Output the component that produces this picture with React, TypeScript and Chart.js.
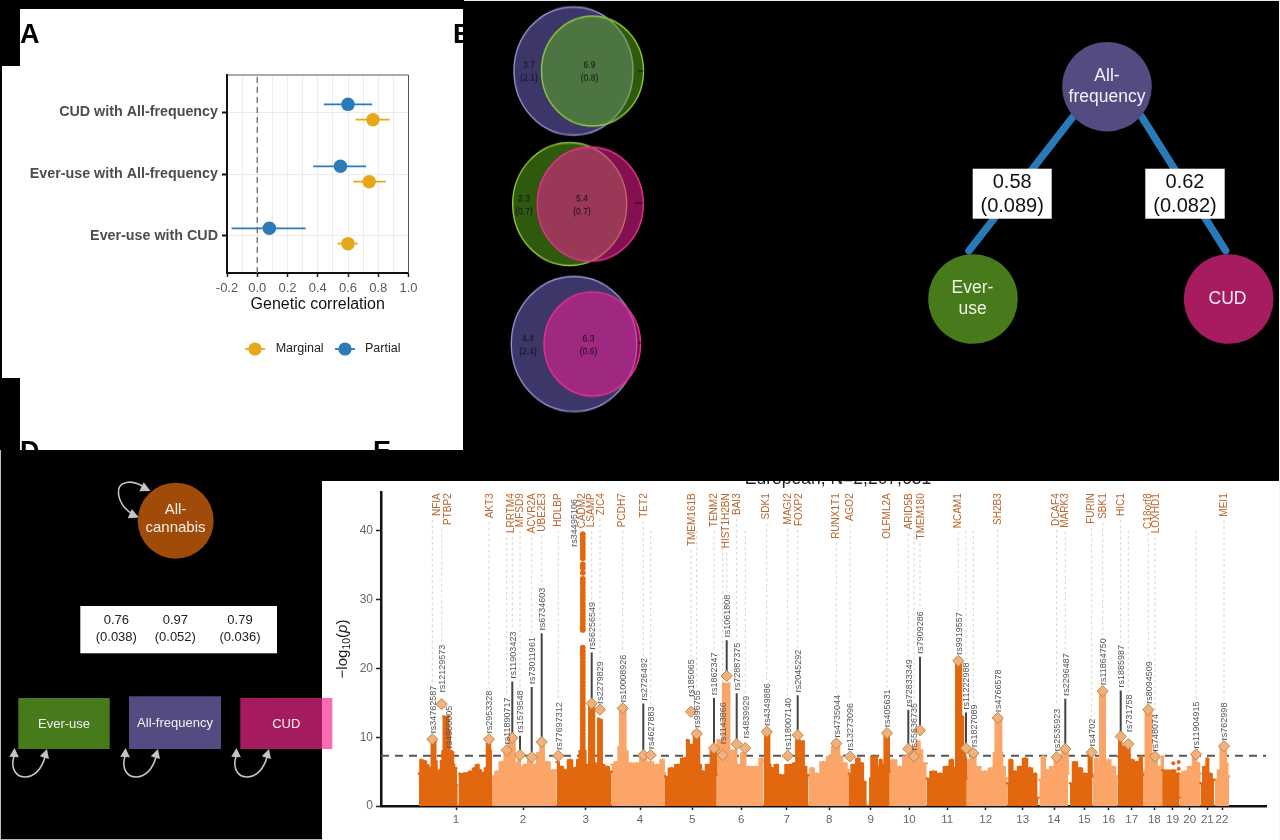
import React, { useEffect, useRef } from "react";
import { Chart, registerables } from "chart.js";

Chart.register(...registerables);

const SANS = "'Liberation Sans', Arial, sans-serif";

// ---------- Panel A ----------
const corrCategories = ["Ever-use with CUD", "Ever-use with All-frequency", "CUD with All-frequency"];
const partialR = [0.08, 0.55, 0.6];
const partialLo = [-0.17, 0.37, 0.44];
const partialHi = [0.32, 0.72, 0.76];
const marginalR = [0.6, 0.74, 0.765];
const marginalLo = [0.53, 0.635, 0.65];
const marginalHi = [0.665, 0.85, 0.875];
const corrXTicks = [-0.2, -0.1, 0, 0.1, 0.2, 0.3, 0.4, 0.5, 0.6, 0.7, 0.8, 0.9, 1.0];

// ---------- Panel B ----------
const vennX = [573.5, 592.5, 569.7, 590.3, 574, 592.3];
const vennY = [71, 71, 204, 204, 344, 344];
const vennR = [59.5, 51, 57, 53, 62.7, 48.3];
const vennTexts: [string, string, number, number][] = [
  ["3.7", "(2.1)", 529, 72], ["6.9", "(0.8)", 589.5, 72],
  ["2.3", "(0.7)", 524, 205], ["5.4", "(0.7)", 582, 205],
  ["4.4", "(2.4)", 528, 345], ["6.3", "(0.6)", 588.5, 345],
];

// ---------- Panel C ----------
const pathNodeX = [1107, 973, 1228.7];
const pathNodeY = [86.7, 299, 299];
const pathEdgeEver = [[1073, 116.7], [969, 250.7]];
const pathEdgeCud = [[1141.7, 116.7], [1225.7, 250.7]];

// ---------- Panel D ----------
const factorBoxTexts: [string, string, number][] = [
  ["0.76", "(0.038)", 116.3], ["0.97", "(0.052)", 175.3], ["0.79", "(0.036)", 240],
];

// ---------- Panel E ----------
const chr1 = [[419, 4.7], [421, 6.7], [425, 6.5], [428, 5.9], [430, 5], [431, 5.5], [431.5, 9.6], [435.5, 9.4], [436, 6.5], [438, 5], [440, 5.2], [441, 6.5], [443, 8], [443.5, 13], [448.5, 13], [449, 11], [451, 8], [453, 7.8], [454, 6], [455, 5.2], [456, 5.5], [456.7, 3], [457, 0], [459.3, 0], [459.5, 4.7], [468, 4.8], [470, 5], [475, 5.5], [476, 5.9], [478, 6], [480, 5.2], [483, 4.8], [486, 5.5], [487, 9], [488, 9.7], [490, 9.7], [491, 8], [491.5, 0]];
const chr2 = [[488.3, 5], [493.3, 4.3], [496.7, 5], [501.7, 6.4], [506.7, 7.6], [510, 9.6], [513.3, 9.8], [516.7, 6.2], [519, 7.5], [521.7, 5.7], [525, 6], [530, 7.2], [535, 6], [538.3, 7.7], [541.7, 9.6], [546.7, 6.4], [553.3, 5.2], [556.7, 5.2]];
const chr3 = [[556.7, 6.4], [561.7, 5.7], [565, 5.2], [570, 6.7], [575, 5.5], [578.3, 6.7], [580, 8], [585, 8], [586.7, 6], [588.3, 5.7], [589.3, 15], [594, 15], [595, 6.2], [597.3, 5.7], [598.3, 12.7], [601.7, 12.5], [602.7, 6], [606.7, 5.7], [611.7, 5]];
const chr4 = [[611.7, 6], [616.7, 6.4], [619.5, 8.6], [620, 14], [625.7, 14], [626, 8], [630, 6.2], [636.7, 6.2], [643, 7.6], [650, 6.4], [656.7, 6], [663.3, 6.7], [665, 4.7]];
const chr5 = [[665, 4.3], [671.7, 5.5], [678, 6], [683.3, 6.9], [686.5, 7], [686.8, 9.6], [691.7, 8.9], [693.3, 6], [693.8, 10.8], [699.3, 10.8], [699.8, 6], [703, 5], [708, 6], [712.7, 8.4], [716, 8.1], [716.5, 4.5]];
const chr6 = [[716, 6.2], [718.3, 9.6], [722, 9.6], [723.3, 17.8], [729.3, 17.8], [730, 8.1], [735, 8.1], [738.3, 6], [743.3, 7.7], [748.3, 5.7], [756.7, 5.7], [761.7, 6.9], [763.7, 6.5]];
const chr7 = [[764, 10.8], [769.3, 10.8], [770, 6], [771.7, 5.5], [776.7, 6], [780, 4.5], [790, 6], [795, 6.2], [796.7, 9.6], [803.3, 9.4], [805, 5.7], [808.3, 4.5]];
const chr8 = [[808.3, 4.3], [811.7, 5.5], [816.7, 4.7], [823.3, 6.4], [830, 7.2], [833.3, 8.6], [839, 8.6], [840, 7.2], [845, 6.2], [849, 5.2]];
const chr9 = [[849, 4.7], [853.3, 6], [858.3, 6.9], [861.7, 6.2], [865, 3.5], [866.7, 0], [869.3, 0], [870.3, 4], [871.7, 7.2], [876.7, 7.2], [878, 5.7], [880.7, 6.7], [883.3, 6], [885, 10.8], [889, 10.6], [889.5, 5]];
const chr10 = [[888.3, 6], [893.3, 6.7], [900, 5.7], [905.7, 7.2], [910, 8.1], [915, 8.6], [918.3, 9.4], [921.7, 8.1], [923.3, 6.2], [926.7, 6.2]];
const chr11 = [[926.7, 4], [933.3, 5], [940, 4.7], [946.7, 5.7], [951.7, 6.7], [955, 5.5], [956.5, 21], [961, 21], [962, 13], [965, 8.4], [966, 7], [966.5, 4]];
const chr12 = [[964, 5.2], [970, 6.7], [971, 7.7], [975, 7.2], [976.7, 5.7], [985, 5], [991.7, 5.5], [995, 7.7], [995.3, 12.7], [1001.5, 12.7], [1001.8, 7.7], [1003.3, 5.7], [1007.3, 4]];
const chr13 = [[1007.3, 3.3], [1010.7, 6.7], [1015, 5], [1020, 5.7], [1025, 6.9], [1030, 5.5], [1035, 4.7], [1038.3, 1.2]];
const chr14 = [[1039.3, 3.8], [1043.3, 7.2], [1047.3, 5.2], [1051.7, 5.7], [1056.7, 7.2], [1061.7, 6.7], [1062, 8.4], [1068, 8.4], [1068.3, 4.7]];
const chr15 = [[1070, 3.3], [1075, 6.4], [1080, 5.5], [1085, 4.7], [1091.7, 7.7], [1092.3, 4.3]];
const chr16 = [[1092.3, 4.7], [1096.7, 6.9], [1099.5, 5.7], [1100, 16.6], [1105, 16.6], [1105.5, 6.2], [1108.3, 6.7], [1113.3, 5.7], [1117.7, 4.3]];
const chr17 = [[1117.7, 7.2], [1120, 10.1], [1123.3, 8.6], [1128.3, 9.1], [1131.7, 6.7], [1136.7, 6.4], [1141.7, 7.2], [1143, 4.5]];
const chr18 = [[1141, 4.3], [1145, 5], [1145.5, 14], [1151.5, 14], [1152, 6.7], [1155, 7.2], [1159.3, 5.7], [1163.3, 7.2], [1163.5, 5]];
const chr19 = [[1162.3, 5.2], [1173.3, 5.2], [1178.3, 4.7], [1179.3, 1.2]];
const chr20 = [[1179.3, 4.7], [1185, 5], [1190, 5.7], [1195, 7.4], [1198.3, 6.2], [1200.7, 4.7]];
const chr21 = [[1200.7, 3.3], [1205, 5.7], [1207.3, 6.9], [1210, 4.7], [1214.3, 3.8]];
const chr22 = [[1215, 3.8], [1220, 5.2], [1220.5, 8.6], [1226, 8.6], [1226.5, 6.2], [1229, 4.3]];
const chromosomes = [chr1, chr2, chr3, chr4, chr5, chr6, chr7, chr8, chr9, chr10, chr11, chr12, chr13, chr14, chr15, chr16, chr17, chr18, chr19, chr20, chr21, chr22];

const chr3TowerP = [39.5, 39, 38.5, 38, 37.5, 37, 36.5, 36, 35.1, 34.6, 33.9, 33, 32.5, 32, 31.5, 31, 30.5, 30, 29.5, 29, 28.5, 28, 27.5, 27, 26.5, 26, 25.6, 23, 22.5, 22, 21.5, 21, 20.5, 20, 19.5, 19, 18.5, 18, 17.5, 17, 16.5, 16, 15.5, 15, 14.5, 14, 13.5, 13, 12.5, 12, 11.5, 11, 10.5, 10, 9.5, 9, 8.5, 8];
const chr19Dots = [[1173.3, 6.2], [1178.7, 6.4], [1178.7, 5.4]];

const chrTickPos = [456, 523, 585.7, 640, 692.3, 741.3, 786.7, 829.3, 870.7, 909.3, 947.3, 985.7, 1022.7, 1054, 1084.3, 1108.7, 1131.7, 1154.3, 1172.7, 1189.7, 1207.3, 1222];
const logPTicks = [0, 10, 20, 30, 40];
const gwasThreshold = 7.3;

const leadSnpNames = [
  "rs34762587", "rs12129573", "rs2953328", "rs11890717", "rs11903423", "rs1579548", "rs73011961", "rs6734603",
  "rs77697312", "rs56256549", "rs2279829", "rs10008926", "rs2726492", "rs4627883", "rs185065", "rs996755",
  "rs1862347", "rs1143866", "rs1061808", "rs72887375", "rs4839929", "rs4349886", "rs118007140", "rs2045292",
  "rs4735044", "rs13273096", "rs405631", "rs72833349", "rs55636735", "rs7909286", "rs9919557", "rs11222988",
  "rs1827089", "rs4766578", "rs2535923", "rs2296487", "rs4702", "rs11864750", "rs1885987", "rs731758",
  "rs8094509", "rs748074", "rs11904915", "rs762998",
];
const leadSnpPos = [
  432.3, 441.7, 489, 506.7, 512.3, 520, 531.7, 541.7,
  558.3, 591.7, 600, 622.7, 643.3, 650.7, 691, 696.7,
  714, 722.7, 726.7, 736.7, 745.3, 766.7, 787.7, 797.7,
  836.3, 850, 887, 908.3, 914, 920, 958.3, 966,
  973.3, 997.7, 1056.7, 1065.3, 1091.7, 1102.7, 1120.7, 1128.3,
  1148.3, 1155, 1196, 1224,
];
const leadSnpLogP = [
  9.7, 14.8, 9.7, 8.1, 9.9, 7.4, 7.1, 9.3,
  7.3, 14.9, 14, 14.2, 7.4, 7.4, 13.7, 10.5,
  8.4, 7.4, 18.9, 9, 8.4, 10.8, 7.3, 10.3,
  9.1, 7.2, 10.6, 8.3, 7.2, 11, 21.1, 8.4,
  7.7, 12.8, 7.1, 8.3, 7.8, 16.7, 10.1, 9,
  14, 7.2, 7.5, 8.7,
];
const leaderTops: Record<string, number> = {
  rs11903423: 18.1, rs1579548: 10.2, rs73011961: 17.3, rs6734603: 25.1, rs56256549: 22.3,
  rs2726492: 14.9, rs1862347: 15.7, rs1061808: 24.1, rs72887375: 16.4, rs2045292: 16.1,
  rs72833349: 14, rs7909286: 21.7, rs11222988: 13.6, rs2296487: 15.6, rs1885987: 16.8,
};
const labelGaps: Record<string, number> = { rs12129573: 12, rs4839929: 10, rs731758: 12, rs185065: 15, rs1143866: 11, rs748074: 5 };
const labelOnlySnps: [string, number, number][] = [["rs34495106", 575, 37.7], ["rs4950005", 449.3, 8.4]];

const geneNames = ["NFIA", "PTBP2", "AKT3", "LRRTM4", "MFSD9", "ACVR2A", "UBE2E3", "HDLBP", "CADM2", "LSAMP", "ZIC4", "PCDH7", "TET2", "TMEM161B", "TENM2", "HIST1H2BN", "BAI3", "SDK1", "MAGI2", "FOXP2", "RUNX1T1", "AGO2", "OLFML2A", "ARID5B", "TMEM180", "NCAM1", "SH2B3", "DCAF4", "MARK3", "FURIN", "SBK1", "HIC1", "C18orf8", "LOXHD1", "MEI1"];
const genePos = [437.3, 448.3, 490, 511.7, 520, 532.7, 542.7, 558.3, 582.3, 591.7, 601, 622.7, 644, 692.3, 714, 726.7, 737.7, 766.7, 788.3, 799, 836.7, 850.7, 887, 909, 921, 958.3, 998.3, 1056.7, 1065.3, 1091.7, 1103.3, 1121.3, 1148.3, 1156, 1224];
const geneSnp = ["rs34762587", "rs12129573", "rs2953328", "rs11890717", "rs11903423", "rs73011961", "rs6734603", "rs77697312", "", "rs56256549", "rs2279829", "rs10008926", "rs2726492", "rs185065", "rs1862347", "rs1061808", "rs72887375", "rs4349886", "rs118007140", "rs2045292", "rs4735044", "rs13273096", "rs405631", "rs72833349", "rs7909286", "rs9919557", "rs4766578", "rs2535923", "rs2296487", "rs4702", "rs11864750", "rs1885987", "rs8094509", "rs748074", "rs762998"];

const DARK = "#e3670f";
const LIGHT = "#fba569";
const NAVY = "#544b80";
const LEAF = "#477a1a";
const BERRY = "#a61c5f";

// ---------- helpers ----------
const pts = (a: number[][]) => a.map(([x, y]) => ({ x, y }));

function base(extra: any = {}) {
  return {
    responsive: false,
    maintainAspectRatio: false,
    devicePixelRatio: 1,
    animation: false,
    events: [],
    layout: { autoPadding: false, padding: 0 },
    plugins: { legend: { display: false }, tooltip: { enabled: false } },
    ...extra,
  };
}

function pageScales(xMin: number, xMax: number, yMin: number, yMax: number) {
  return {
    x: { type: "linear", display: false, min: xMin, max: xMax },
    y: { type: "linear", display: false, min: yMin, max: yMax, reverse: true },
  };
}

function text(ctx: any, s: string, x: number, y: number, font: string, color: string, align: any = "center", baseline: any = "middle") {
  ctx.font = font;
  ctx.fillStyle = color;
  ctx.textAlign = align;
  ctx.textBaseline = baseline;
  ctx.fillText(s, x, y);
}

function arrow(ctx: any, tx: number, ty: number, angle: number, len = 10, half = 5) {
  ctx.save();
  ctx.translate(tx, ty);
  ctx.rotate(angle);
  ctx.beginPath();
  ctx.moveTo(0, 0);
  ctx.lineTo(-len, -half);
  ctx.lineTo(-len, half);
  ctx.closePath();
  ctx.fillStyle = "#c4c4c4";
  ctx.fill();
  ctx.restore();
}

// ---------- chart configs ----------
function corrConfig() {
  const dodge = 0.124;
  const errs = (lo: number[], hi: number[], off: number) =>
    lo.flatMap((l, i) => [{ x: l, y: i + 1 + off }, { x: hi[i], y: i + 1 + off }, { x: NaN, y: NaN }]);
  const plugin = {
    id: "corrDecor",
    afterDraw(chart: any) {
      const { ctx, chartArea: a } = chart;
      ctx.save();
      ctx.strokeStyle = "#555";
      ctx.lineWidth = 1;
      ctx.beginPath();
      ctx.moveTo(a.left, a.top);
      ctx.lineTo(a.right, a.top);
      ctx.lineTo(a.right, a.bottom);
      ctx.stroke();
      // legend
      const keys: [string, string, number, number][] = [["Marginal", "#e6a817", 253, 273.7], ["Partial", "#2b7bba", 343, 363]];
      keys.forEach(([t, c, kx, tx]) => {
        ctx.strokeStyle = c;
        ctx.lineWidth = 1.8;
        ctx.beginPath();
        ctx.moveTo(kx - 10, 340);
        ctx.lineTo(kx + 10, 340);
        ctx.stroke();
        ctx.fillStyle = c;
        ctx.beginPath();
        ctx.arc(kx, 340, 6.6, 0, Math.PI * 2);
        ctx.fill();
        text(ctx, t, tx, 340, `12.5px ${SANS}`, "#222", "left");
      });
      // panel letters
      const f = `bold 27px ${SANS}`;
      text(ctx, "A", 18, 34, f, "#000", "left", "alphabetic");
      text(ctx, "B", 451, 34, f, "#000", "left", "alphabetic");
      text(ctx, "D", 18, 451, f, "#000", "left", "alphabetic");
      text(ctx, "E", 371, 451, f, "#000", "left", "alphabetic");
      ctx.restore();
    },
  };
  return {
    type: "scatter",
    data: {
      datasets: [
        { label: "Partial", data: partialR.map((x, i) => ({ x, y: i + 1 + dodge })), backgroundColor: "#2b7bba", borderWidth: 0, pointRadius: 6.8, order: 0 },
        { label: "Marginal", data: marginalR.map((x, i) => ({ x, y: i + 1 - dodge })), backgroundColor: "#e6a817", borderWidth: 0, pointRadius: 6.8, order: 0 },
        { label: "Partial interval", data: errs(partialLo, partialHi, dodge), showLine: true, pointRadius: 0, borderColor: "#2b7bba", borderWidth: 1.8, spanGaps: false, order: 1 },
        { label: "Marginal interval", data: errs(marginalLo, marginalHi, -dodge), showLine: true, pointRadius: 0, borderColor: "#e6a817", borderWidth: 1.8, spanGaps: false, order: 1 },
        { label: "Zero", data: [{ x: 0, y: 0.403 }, { x: 0, y: 3.597 }], showLine: true, pointRadius: 0, borderColor: "#777", borderWidth: 1.4, borderDash: [6, 4], order: 2 },
      ],
    },
    options: base({
      layout: { autoPadding: false, padding: { top: 66, right: 54.5, bottom: 0, left: 0 } },
      scales: {
        x: {
          type: "linear",
          min: -0.2,
          max: 1.0,
          afterFit: (s: any) => { s.height = 177; },
          afterBuildTicks: (s: any) => { s.ticks = corrXTicks.map((value) => ({ value })); },
          border: { color: "#111", width: 2 },
          grid: {
            color: "#ececec",
            lineWidth: 1,
            tickLength: 4,
            tickWidth: 1.5,
            tickColor: (c: any) => (c.tick && Math.abs(Math.round(c.tick.value * 10)) % 2 === 0 ? "#222" : "rgba(0,0,0,0)"),
          },
          ticks: {
            autoSkip: false,
            maxRotation: 0,
            padding: 4,
            color: "#5a5a5a",
            font: { family: SANS, size: 13 },
            callback: (v: number) => (Math.abs(Math.round(v * 10)) % 2 === 0 ? v.toFixed(1) : ""),
          },
          title: { display: true, text: "Genetic correlation", color: "#111", font: { family: SANS, size: 16 }, padding: { top: 0, bottom: 136 } },
        },
        y: {
          type: "linear",
          min: 0.403,
          max: 3.597,
          afterFit: (s: any) => { s.width = 225; },
          afterBuildTicks: (s: any) => { s.ticks = [1, 2, 3].map((value) => ({ value })); },
          border: { color: "#111", width: 2 },
          grid: { color: "#ececec", lineWidth: 1, tickLength: 5, tickWidth: 2, tickColor: "#111" },
          ticks: {
            padding: 4,
            color: "#4d4d4d",
            font: { family: SANS, size: 14.3, weight: "bold" },
            callback: (v: number) => corrCategories[v - 1],
          },
        },
      },
    }),
    plugins: [plugin],
  };
}

function vennConfig() {
  const fills = ["rgba(110,100,190,0.55)", "rgba(94,180,26,0.5)", "rgba(94,180,26,0.5)", "rgba(240,30,150,0.55)", "rgba(110,100,190,0.55)", "rgba(240,30,150,0.55)"];
  const lines = ["#8f8fc9", "#8fc63f", "#8fc63f", "#e8308c", "#8f8fc9", "#e8308c"];
  const ticks = [[637.7, 643.3, 71], [635, 643, 203], [638.3, 640.7, 343]];
  const plugin = {
    id: "vennText",
    afterDatasetsDraw(chart: any) {
      const { ctx, scales } = chart;
      ctx.save();
      ctx.strokeStyle = "#111";
      ctx.lineWidth = 1;
      ticks.forEach(([a, b, y]) => {
        ctx.beginPath();
        ctx.moveTo(scales.x.getPixelForValue(a), scales.y.getPixelForValue(y));
        ctx.lineTo(scales.x.getPixelForValue(b), scales.y.getPixelForValue(y));
        ctx.stroke();
      });
      vennTexts.forEach(([a, b, x, y]) => {
        const px = scales.x.getPixelForValue(x);
        text(ctx, a, px, scales.y.getPixelForValue(y - 6.5), `8.5px ${SANS}`, "#111118");
        text(ctx, b, px, scales.y.getPixelForValue(y + 6.5), `8.5px ${SANS}`, "#111118");
      });
      ctx.restore();
    },
  };
  return {
    type: "bubble",
    data: {
      datasets: vennX.map((x, i) => ({
        label: `circle ${i + 1}`,
        data: [{ x, y: vennY[i], r: vennR[i] }],
        backgroundColor: fills[i],
        borderColor: lines[i],
        borderWidth: 1.4,
        order: i % 2 === 0 ? 2 : 1,
        clip: false,
      })),
    },
    options: base({ scales: pageScales(470, 670, 0, 420) }),
    plugins: [plugin],
  };
}

function pathConfig() {
  const fills = [NAVY, LEAF, BERRY];
  const plugin = {
    id: "pathText",
    afterDatasetsDraw(chart: any) {
      const { ctx, scales } = chart;
      const X = (v: number) => scales.x.getPixelForValue(v);
      const Y = (v: number) => scales.y.getPixelForValue(v);
      ctx.save();
      const node = `17.5px ${SANS}`;
      text(ctx, "All-", X(1107), Y(76), node, "#f2f2f8");
      text(ctx, "frequency", X(1107), Y(97), node, "#f2f2f8");
      text(ctx, "Ever-", X(972.5), Y(288), node, "#eef5e6");
      text(ctx, "use", X(972.5), Y(309), node, "#eef5e6");
      text(ctx, "CUD", X(1227.5), Y(299), node, "#f8ecf2");
      const boxes: [string, string, number, number][] = [["0.58", "(0.089)", 972.7, 1051.7], ["0.62", "(0.082)", 1145.3, 1224.7]];
      boxes.forEach(([a, b, l, r]) => {
        ctx.fillStyle = "#fff";
        ctx.fillRect(X(l), Y(168.7), X(r) - X(l), Y(218.7) - Y(168.7));
        const cx = X((l + r) / 2);
        text(ctx, a, cx, Y(182.7), `20px ${SANS}`, "#111");
        text(ctx, b, cx, Y(206), `20px ${SANS}`, "#111");
      });
      ctx.restore();
    },
  };
  const edge = (e: number[][], label: string) => ({
    type: "scatter", label, data: pts(e), showLine: true, pointRadius: 0, borderColor: "#2a7ab8", borderWidth: 7.5, order: 2, borderCapStyle: "round", clip: false,
  });
  return {
    type: "bubble",
    data: {
      datasets: [
        ...pathNodeX.map((x, i) => ({ label: `node ${i}`, data: [{ x, y: pathNodeY[i], r: 44.8 }], backgroundColor: fills[i], borderWidth: 0, order: 1, clip: false })),
        edge(pathEdgeEver, "Ever-use path"),
        edge(pathEdgeCud, "CUD path"),
      ],
    },
    options: base({ scales: pageScales(900, 1280, 0, 360) }),
    plugins: [plugin],
  };
}

function factorConfig() {
  const rects: [string, number, number, number, number, string, number][] = [
    ["Ever-use", 18.3, 109.7, 698, 749, LEAF, 724],
    ["All-frequency", 129, 221, 696.3, 749, NAVY, 723],
    ["CUD", 240.3, 332.3, 698, 749, "rgba(245,40,140,0.68)", 724],
  ];
  const loopOffsets = [0, 111, 222];
  const plugin = {
    id: "factorDecor",
    beforeDatasetsDraw(chart: any) {
      const { ctx, scales } = chart;
      const X = (v: number) => scales.x.getPixelForValue(v);
      const Y = (v: number) => scales.y.getPixelForValue(v);
      ctx.save();
      rects.forEach(([t, l, r, top, bot, fill, ty]) => {
        ctx.fillStyle = fill;
        ctx.fillRect(X(l), Y(top), X(r) - X(l), Y(bot) - Y(top));
        text(ctx, t, X((l + r) / 2), Y(ty), `13px ${SANS}`, "#f2f2f2");
      });
      // variance loops
      ctx.strokeStyle = "#c4c4c4";
      ctx.lineWidth = 1.6;
      loopOffsets.forEach((d) => {
        ctx.beginPath();
        ctx.moveTo(X(14 + d), Y(756));
        ctx.bezierCurveTo(X(10 + d), Y(770), X(17 + d), Y(777), X(25 + d), Y(777));
        ctx.bezierCurveTo(X(35 + d), Y(777), X(42 + d), Y(768), X(45 + d), Y(757));
        ctx.stroke();
        arrow(ctx, X(14.5 + d), Y(748), -Math.PI / 2 + 0.05, 9, 4.8);
        arrow(ctx, X(47 + d), Y(749), -Math.PI / 2 + 0.3, 9, 4.8);
      });
      ctx.beginPath();
      ctx.moveTo(X(146), Y(488.5));
      ctx.bezierCurveTo(X(132), Y(478), X(117), Y(481), X(118.5), Y(494));
      ctx.bezierCurveTo(X(120), Y(505), X(128), Y(512), X(134), Y(515));
      ctx.stroke();
      arrow(ctx, X(150.5), Y(491), 0.45, 10, 5);
      arrow(ctx, X(139), Y(517.5), 0.4, 10, 5);
      ctx.restore();
    },
    afterDatasetsDraw(chart: any) {
      const { ctx, scales } = chart;
      const X = (v: number) => scales.x.getPixelForValue(v);
      const Y = (v: number) => scales.y.getPixelForValue(v);
      ctx.save();
      text(ctx, "All-", X(175.5), Y(510), `15px ${SANS}`, "#f8efe6");
      text(ctx, "cannabis", X(175.5), Y(528), `15px ${SANS}`, "#f8efe6");
      ctx.fillStyle = "#fff";
      ctx.fillRect(X(80.3), Y(606), X(277) - X(80.3), Y(653.3) - Y(606));
      factorBoxTexts.forEach(([a, b, x]) => {
        text(ctx, a, X(x), Y(620.7), `13px ${SANS}`, "#222");
        text(ctx, b, X(x), Y(637), `13px ${SANS}`, "#222");
      });
      ctx.restore();
    },
  };
  return {
    type: "bubble",
    data: { datasets: [{ label: "All-cannabis", data: [{ x: 175.7, y: 520.7, r: 38 }], backgroundColor: "#a04b0a", borderWidth: 0, clip: false }] },
    options: base({ scales: pageScales(0, 340, 450, 840) }),
    plugins: [plugin],
  };
}

function manhattanConfig() {
  const leaders = leadSnpNames.flatMap((n, i) =>
    leaderTops[n] ? [{ x: leadSnpPos[i], y: leadSnpLogP[i] }, { x: leadSnpPos[i], y: leaderTops[n] }, { x: NaN, y: NaN }] : []
  );
  const snpLabelBase = (n: string, i: number, Y: any) => (leaderTops[n] ? Y(leaderTops[n]) - 3 : Y(leadSnpLogP[i]) - (labelGaps[n] || 6));
  const SNP_FONT = `9px ${SANS}`;
  const GENE_FONT = `10px ${SANS}`;
  const GENE_TOP = 12.3;
  const vtext = (ctx: any, s: string, x: number, y: number, font: string, color: string, align: string) => {
    ctx.save();
    ctx.translate(x, y);
    ctx.rotate(-Math.PI / 2);
    text(ctx, s, 0, 0, font, color, align);
    ctx.restore();
  };
  const plugin = {
    id: "manhattanDecor",
    beforeDatasetsDraw(chart: any) {
      const { ctx, scales } = chart;
      const X = (v: number) => scales.x.getPixelForValue(v);
      const Y = (v: number) => scales.y.getPixelForValue(v);
      ctx.save();
      ctx.strokeStyle = "#d0d0d0";
      ctx.lineWidth = 1;
      ctx.setLineDash([2.5, 3]);
      leadSnpNames.forEach((n, i) => {
        const base = snpLabelBase(n, i, Y);
        ctx.font = SNP_FONT;
        const labelTop = base - ctx.measureText(n).width - 2;
        const gi = geneSnp.indexOf(n);
        let top = Y(40);
        if (gi >= 0) {
          ctx.font = GENE_FONT;
          top = GENE_TOP + ctx.measureText(geneNames[gi]).width + 4;
        }
        if (labelTop > top) {
          ctx.beginPath();
          ctx.moveTo(X(leadSnpPos[i]), top);
          ctx.lineTo(X(leadSnpPos[i]), labelTop);
          ctx.stroke();
        }
      });
      ctx.restore();
    },
    afterDatasetsDraw(chart: any) {
      const { ctx, scales } = chart;
      const X = (v: number) => scales.x.getPixelForValue(v);
      const Y = (v: number) => scales.y.getPixelForValue(v);
      ctx.save();
      geneNames.forEach((g, i) => vtext(ctx, g, X(genePos[i]), GENE_TOP, GENE_FONT, "#b8672e", "right"));
      leadSnpNames.forEach((n, i) => vtext(ctx, n, X(leadSnpPos[i]) + 0.8, snpLabelBase(n, i, Y), SNP_FONT, "#555", "left"));
      labelOnlySnps.forEach(([n, x, y]) => vtext(ctx, n, X(x), Y(y), SNP_FONT, "#555", "left"));
      // title, cut by the black band above the panel
      text(ctx, "European, N=2,207,651", X(838), 2.5, `17.5px ${SANS}`, "#222", "center", "alphabetic");
      // y axis title with subscript and italic p
      ctx.translate(20, 168);
      ctx.rotate(-Math.PI / 2);
      const parts: [string, string, number][] = [
        ["−log", `15px ${SANS}`, 0], ["10", `10.5px ${SANS}`, 3], ["(", `15px ${SANS}`, 0], ["p", `italic 15px ${SANS}`, 0], [")", `15px ${SANS}`, 0],
      ];
      let w = 0;
      parts.forEach(([s, f]) => { ctx.font = f; w += ctx.measureText(s).width; });
      let cx = -w / 2;
      parts.forEach(([s, f, dy]) => {
        text(ctx, s, cx, dy + 5, f, "#222", "left", "alphabetic");
        cx += ctx.measureText(s).width;
      });
      ctx.restore();
    },
  };
  return {
    type: "scatter",
    data: {
      datasets: [
        { label: "Lead variants", data: leadSnpPos.map((x, i) => ({ x, y: leadSnpLogP[i] })), pointStyle: "rectRot", pointRadius: 5.6, backgroundColor: "#f3b07c", borderColor: "#b58a45", borderWidth: 1, order: 0, clip: false },
        { label: "Leaders", data: leaders, showLine: true, pointRadius: 0, borderColor: "#444", borderWidth: 2, spanGaps: false, order: 1, clip: false },
        { label: "chr3 tower", data: chr3TowerP.map((y) => ({ x: 582.8, y })), pointRadius: 2.9, backgroundColor: DARK, borderWidth: 0, order: 2 },
        { label: "chr19 dots", data: pts(chr19Dots), pointRadius: 2, backgroundColor: DARK, borderWidth: 0, order: 2 },
        ...chromosomes.map((c, i) => ({
          label: `chr${i + 1}`,
          data: pts(c),
          showLine: true,
          stepped: "middle",
          fill: "origin",
          pointRadius: 1.3,
          borderWidth: 1.5,
          borderColor: i % 2 === 0 ? DARK : LIGHT,
          backgroundColor: i % 2 === 0 ? DARK : LIGHT,
          pointBackgroundColor: i % 2 === 0 ? DARK : LIGHT,
          pointBorderWidth: 0,
          order: i % 2 === 0 ? 3 : 4,
          clip: 0,
        })),
        { label: "Genome-wide threshold", data: [{ x: 381, y: gwasThreshold }, { x: 1266, y: gwasThreshold }], showLine: true, pointRadius: 0, borderColor: "#555", borderWidth: 2, borderDash: [8, 6], order: 5 },
      ],
    },
    options: base({
      layout: { autoPadding: false, padding: { top: 11.7, right: 12, bottom: 0, left: 0 } },
      scales: {
        x: {
          type: "linear",
          min: 381,
          max: 1266,
          afterFit: (s: any) => { s.height = 34; },
          afterBuildTicks: (s: any) => { s.ticks = chrTickPos.map((value) => ({ value })); },
          border: { color: "#111", width: 2.5 },
          grid: { drawOnChartArea: false, tickLength: 4, tickWidth: 1.5, tickColor: "#222" },
          ticks: {
            autoSkip: false,
            maxRotation: 0,
            minRotation: 0,
            padding: 3,
            color: "#666",
            font: { family: SANS, size: 11.5 },
            callback: (_v: number, i: number) => String(i + 1),
          },
        },
        y: {
          type: "linear",
          min: 0,
          max: 45.54,
          afterFit: (s: any) => { s.width = 59; },
          afterBuildTicks: (s: any) => { s.ticks = logPTicks.map((value) => ({ value })); },
          border: { color: "#111", width: 2.5 },
          grid: { drawOnChartArea: false, tickLength: 5, tickWidth: 1.5, tickColor: "#222" },
          ticks: { padding: 3, color: "#666", font: { family: SANS, size: 12 } },
        },
      },
    }),
    plugins: [plugin],
  };
}

type Box = { l: number; t: number; w: number; h: number; fill: string; z?: number };
const blocks: Box[] = [
  { l: 2, t: 9, w: 461, h: 441, fill: "#fff" },
  { l: 0, t: 0, w: 20, h: 66, fill: "#000" },
  { l: 0, t: 378, w: 20, h: 72, fill: "#000" },
  { l: 322, t: 481, w: 958, h: 359, fill: "#fff" },
  { l: 464, t: 0, w: 816, h: 1, fill: "#e8e8e8" },
  { l: 1278.5, t: 0, w: 1.5, h: 840, fill: "#f4f4f4" },
  { l: 0, t: 450, w: 1, h: 390, fill: "#bbb" },
  { l: 0, t: 838.5, w: 322, h: 1.5, fill: "#bbb" },
];

export default function App() {
  const a = useRef<HTMLCanvasElement>(null);
  const v = useRef<HTMLCanvasElement>(null);
  const p = useRef<HTMLCanvasElement>(null);
  const f = useRef<HTMLCanvasElement>(null);
  const m = useRef<HTMLCanvasElement>(null);
  useEffect(() => {
    const charts = [
      new Chart(m.current as any, manhattanConfig() as any),
      new Chart(a.current as any, corrConfig() as any),
      new Chart(v.current as any, vennConfig() as any),
      new Chart(p.current as any, pathConfig() as any),
      new Chart(f.current as any, factorConfig() as any),
    ];
    return () => charts.forEach((c) => c.destroy());
  }, []);
  const abs = (l: number, t: number, extra: any = {}): any => ({ position: "absolute", left: l, top: t, ...extra });
  return (
    <div style={{ position: "fixed", left: 0, top: 0, width: 1280, height: 840, background: "#000", overflow: "hidden" }}>
      {blocks.map((b, i) => (
        <div key={i} style={abs(b.l, b.t, { width: b.w, height: b.h, background: b.fill })} />
      ))}
      <canvas ref={m} width={956} height={359} style={abs(322, 481)} />
      <canvas ref={a} width={461} height={441} style={abs(2, 9)} />
      <canvas ref={v} width={200} height={390} style={abs(470, 0, { transform: "scaleY(1.0769)", transformOrigin: "0 0" })} />
      <canvas ref={p} width={380} height={360} style={abs(900, 0)} />
      <canvas ref={f} width={340} height={390} style={abs(0, 450)} />
    </div>
  );
}
